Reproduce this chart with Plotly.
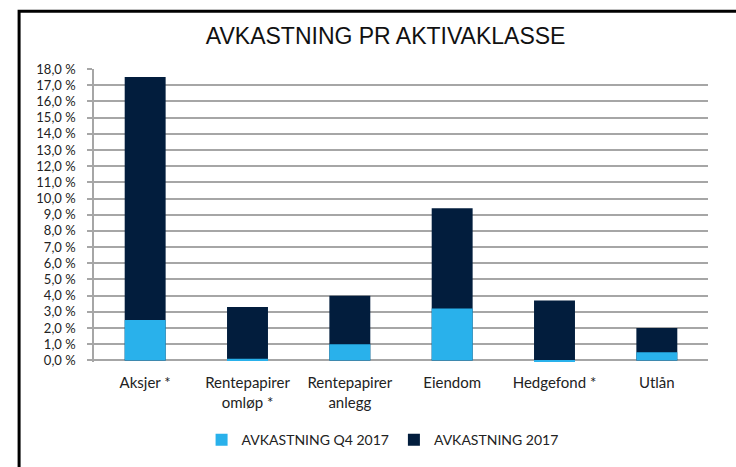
import plotly.graph_objects as go

categories = ["Aksjer *", "Rentepapirer<br>omløp *", "Rentepapirer<br>anlegg", "Eiendom", "Hedgefond *", "Utlån"]
avk_q4_2017 = [2.5, 0.1, 1.0, 3.2, -0.1, 0.5]
avk_2017 = [17.5, 3.3, 4.0, 9.4, 3.7, 2.0]
tick_vals = [i for i in range(0, 19)]
tick_text = [f"{v},0 %" for v in tick_vals]

LIGHT = "#29B1EB"
DARK = "#021D3D"
GRID = "#A6A6A6"
FONT = "Lato, Carlito, Calibri, sans-serif"

fig = go.Figure()
fig.add_trace(go.Bar(x=categories, y=avk_2017, name="AVKASTNING 2017",
                     marker=dict(color=DARK, line=dict(width=0)), legendrank=2))
fig.add_trace(go.Bar(x=categories, y=avk_q4_2017, name="AVKASTNING Q4 2017",
                     marker=dict(color=LIGHT, line=dict(width=0)), legendrank=1))

fig.update_layout(
    width=736, height=467,
    margin=dict(l=94, r=28, t=69, b=104),
    paper_bgcolor="white", plot_bgcolor="white",
    barmode="overlay", bargap=0.6,
    font=dict(family=FONT, size=13, color="#222222"),
    title=dict(text="AVKASTNING PR AKTIVAKLASSE", x=0.524, xanchor="center",
               y=0.922, yanchor="middle",
               font=dict(family="Liberation Sans, Arial, sans-serif", size=23, color="#111111")),
    legend=dict(orientation="h", x=0.47, xanchor="center", y=-0.262, yanchor="middle",
                font=dict(family=FONT, size=14, color="#222222"), itemwidth=30,
                traceorder="normal", bgcolor="rgba(0,0,0,0)"),
    xaxis=dict(showgrid=False, showline=False, ticks="", tickfont=dict(size=15),
               ticklabelstandoff=10, fixedrange=True),
    yaxis=dict(range=[-0.1, 18], tickvals=tick_vals, ticktext=tick_text,
               showgrid=True, gridcolor=GRID, gridwidth=1.5,
               showline=True, linecolor=GRID, linewidth=1.5,
               ticks="outside", ticklen=5, tickcolor=GRID, tickwidth=1.5,
               zeroline=True, zerolinecolor=GRID, zerolinewidth=1.5,
               tickfont=dict(size=13), ticklabelstandoff=9),
    shapes=[dict(type="rect", xref="paper", yref="paper",
                 x0=-0.122, x1=2.0, y0=-2.0, y1=1.197,
                 line=dict(color="black", width=3), fillcolor="rgba(0,0,0,0)", layer="above")],
)

fig.write_html("out.html")
